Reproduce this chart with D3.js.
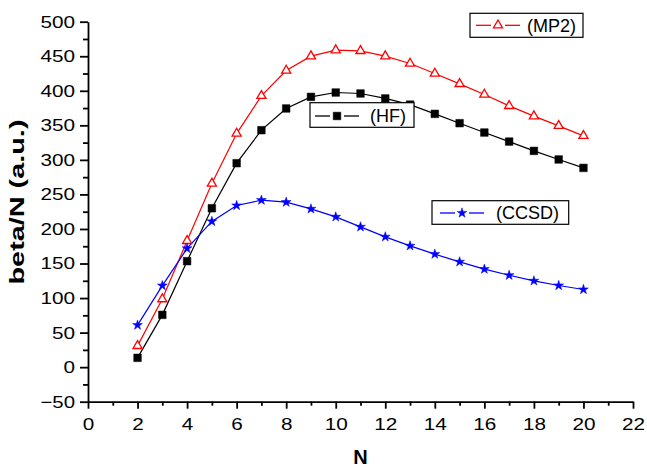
<!DOCTYPE html>
<html>
<head>
<meta charset="utf-8">
<script src="https://cdn.jsdelivr.net/npm/d3@7"></script>
<style>
  html, body { margin: 0; padding: 0; background: #fff; }
  svg { display: block; font-family: "Liberation Sans", Arial, sans-serif; }
</style>
</head>
<body>
<svg id="chart" width="647" height="467"></svg>
<script>
// Chain length N and first hyperpolarizability per unit, three methods
const nValues = [2, 3, 4, 5, 6, 7, 8, 9, 10, 11, 12, 13, 14, 15, 16, 17, 18, 19, 20];
const hfValues = [13.5, 75.7, 153.4, 230, 295.2, 343, 374.4, 391.2, 397.5, 396.1, 388.9, 380, 366.6, 353.1, 339.6, 326.5, 313, 300.6, 288.4];
const mp2Values = [30.8, 98.5, 182.8, 265.9, 338.1, 392.7, 429.4, 450.1, 458.8, 457.8, 450.1, 439.5, 425, 410, 394.6, 378.2, 363.3, 349.3, 334.8];
const ccsdValues = [60.8, 118, 171.8, 210.9, 234, 241.7, 238.8, 229, 217.5, 203, 188.6, 175.6, 163.5, 152.4, 141.8, 133, 124.9, 118.2, 112.4];

const xTicks = [0, 2, 4, 6, 8, 10, 12, 14, 16, 18, 20, 22];
const xMinorTicks = [1, 3, 5, 7, 9, 11, 13, 15, 17, 19, 21];
const yTicks = [-50, 0, 50, 100, 150, 200, 250, 300, 350, 400, 450, 500];
const yMinorTicks = [-25, 25, 75, 125, 175, 225, 275, 325, 375, 425, 475];

const seriesNames = ["(MP2)", "(HF)", "(CCSD)"];

const svg = d3.select("#chart");

const x = d3.scaleLinear().domain([0, 22]).range([88, 633]);
const y = d3.scaleLinear().domain([-50, 500]).range([401.7, 21.7]);

const tickFont = 17;
// widen digit glyphs a little, as in the original plotting package
function stretchLabels(sel) {
  sel.selectAll("text").each(function () {
    const t = d3.select(this);
    const n = t.text().length;
    t.attr("textLength", n * 0.556 * tickFont * 1.22)
     .attr("lengthAdjust", "spacingAndGlyphs");
  });
}

// x axis
const gx = svg.append("g").attr("transform", `translate(0,${y(-50)})`);
gx.call(d3.axisBottom(x).tickValues(xTicks).tickSize(7).tickSizeOuter(0).tickPadding(9.5).tickFormat(d3.format("d")));
svg.append("g").attr("transform", `translate(0,${y(-50)})`)
  .call(d3.axisBottom(x).tickValues(xMinorTicks).tickSize(4).tickSizeOuter(0).tickFormat(""))
  .select(".domain").remove();

// y axis
const gy = svg.append("g").attr("transform", `translate(${x(0)},0)`);
gy.call(d3.axisLeft(y).tickValues(yTicks).tickSize(8).tickSizeOuter(0).tickPadding(5).tickFormat(d3.format("d")));
svg.append("g").attr("transform", `translate(${x(0)},0)`)
  .call(d3.axisLeft(y).tickValues(yMinorTicks).tickSize(5).tickSizeOuter(0).tickFormat(""))
  .select(".domain").remove();

svg.selectAll(".domain, .tick line").attr("stroke", "#000").attr("stroke-width", 1.8);
svg.selectAll(".tick text").attr("font-size", tickFont).attr("fill", "#000")
  .attr("font-family", "'Liberation Sans', Arial, sans-serif");
stretchLabels(gx);
stretchLabels(gy);

// axis titles
svg.append("text")
  .attr("x", (x(0) + x(22)) / 2).attr("y", 464)
  .attr("text-anchor", "middle").attr("font-weight", "bold").attr("font-size", 20)
  .text("N");
svg.append("text")
  .attr("transform", `translate(24,202) rotate(-90)`)
  .attr("text-anchor", "middle").attr("font-weight", "bold").attr("font-size", 21)
  .attr("textLength", 165).attr("lengthAdjust", "spacingAndGlyphs")
  .text("beta/N (a.u.)");

const line = d3.line().x(d => x(d[0])).y(d => y(d[1]));
const series = [
  { name: seriesNames[0], values: mp2Values, color: "#ff0000", symbol: d3.symbolTriangle, size: 36, fill: "#fff" },
  { name: seriesNames[1], values: hfValues, color: "#000000", symbol: d3.symbolSquare, size: 58, fill: "#000" },
  { name: seriesNames[2], values: ccsdValues, color: "#0000ff", symbol: d3.symbolStar, size: 30, fill: "#0000ff" }
];

series.forEach(s => {
  const pts = nValues.map((n, i) => [n, s.values[i]]);
  svg.append("path").datum(pts)
    .attr("d", line).attr("fill", "none").attr("stroke", s.color).attr("stroke-width", 1.2);
});
series.forEach(s => {
  const pts = nValues.map((n, i) => [n, s.values[i]]);
  svg.append("g").selectAll("path").data(pts).join("path")
    .attr("transform", d => `translate(${x(d[0])},${y(d[1])})`)
    .attr("d", d3.symbol().type(s.symbol).size(s.size))
    .attr("fill", s.fill).attr("stroke", s.color).attr("stroke-width", s.fill === "#fff" ? 1.3 : 0.5);
});

// legends, one box per series
const legends = [
  { s: series[0], box: [470, 13.3, 113, 24], cy: 25.3, l0: 476, m: 498, l1: 520, tx: 527 },
  { s: series[1], box: [310, 102.7, 104, 24.6], cy: 116, l0: 315, m: 337, l1: 359, tx: 370 },
  { s: series[2], box: [432, 200.7, 136.7, 23.6], cy: 213, l0: 440, m: 462, l1: 484, tx: 496 }
];
legends.forEach(L => {
  const g = svg.append("g");
  g.append("rect").attr("x", L.box[0]).attr("y", L.box[1]).attr("width", L.box[2]).attr("height", L.box[3])
    .attr("fill", "#fff").attr("stroke", "#000").attr("stroke-width", 1.2);
  g.append("line").attr("x1", L.l0).attr("x2", L.m - 7).attr("y1", L.cy).attr("y2", L.cy)
    .attr("stroke", L.s.color).attr("stroke-width", 1.3);
  g.append("line").attr("x1", L.m + 7).attr("x2", L.l1).attr("y1", L.cy).attr("y2", L.cy)
    .attr("stroke", L.s.color).attr("stroke-width", 1.3);
  g.append("path").attr("transform", `translate(${L.m},${L.cy})`)
    .attr("d", d3.symbol().type(L.s.symbol).size(L.s.size))
    .attr("fill", L.s.fill).attr("stroke", L.s.color).attr("stroke-width", L.s.fill === "#fff" ? 1.3 : 0.5);
  g.append("text").attr("x", L.tx).attr("y", L.cy + 6.3).attr("font-size", 18).attr("fill", "#000")
    .text(L.s.name);
});
</script>
</body>
</html>
